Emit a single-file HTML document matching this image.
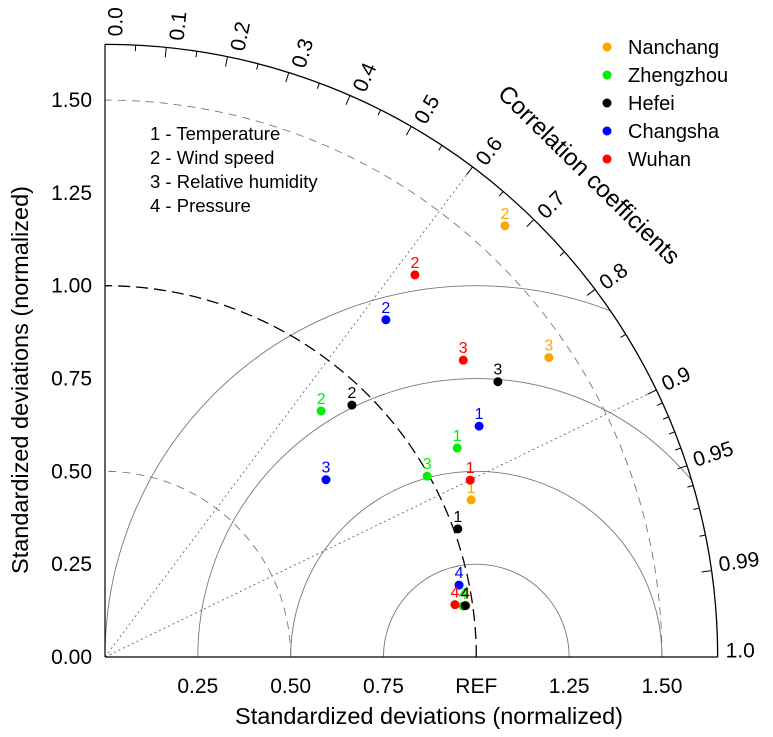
<!DOCTYPE html>
<html style="margin:0;width:773px;height:737px;overflow:hidden"><head><meta charset="utf-8"><style>
body{margin:0;width:773px;height:737px;overflow:hidden;background:#fff;position:relative}
svg{display:block;position:absolute;left:0;top:0;font-family:"Liberation Sans",sans-serif}
</style></head><body>
<svg id="chart" width="773" height="737" viewBox="0 0 773 737">
<defs><clipPath id="sector"><path d="M105,657 L717.6,657 A612.6,612.6 0 0 0 105,44.4 Z"/></clipPath></defs>
<g id="grid"></g>
<g id="axes"></g>
<g id="marks"></g>
<text x="429" y="724" font-size="23.5" text-anchor="middle">Standardized deviations (normalized)</text>
<text transform="translate(28,380) rotate(-90)" font-size="23.5" text-anchor="middle">Standardized deviations (normalized)</text>
<text transform="translate(588,176) rotate(44.5)" font-size="24" text-anchor="middle" dominant-baseline="middle">Correlation coefficients</text>
<g font-size="18.5">
<text x="150" y="140">1 - Temperature</text>
<text x="150" y="164">2 - Wind speed</text>
<text x="150" y="188">3 - Relative humidity</text>
<text x="150" y="212">4 - Pressure</text>
</g>
<g id="legend"></g>
</svg>
<script>
const stations = ["Nanchang","Zhengzhou","Hefei","Changsha","Wuhan"];
const colors = ["#ffa500","#00ee00","#000000","#0000ff","#ff0000"];
const nanchangStd = [1.073,1.584,1.442,0.982];
const nanchangCorr = [0.919,0.680,0.829,0.990];
const zhengzhouStd = [1.103,0.882,0.995,0.974];
const zhengzhouCorr = [0.860,0.660,0.872,0.990];
const hefeiStd = [1.011,0.950,1.292,0.980];
const hefeiCorr = [0.940,0.700,0.819,0.990];
const changshaStd = [1.184,1.182,0.763,0.973];
const changshaCorr = [0.851,0.640,0.780,0.980];
const wuhanStd = [1.093,1.325,1.253,0.953];
const wuhanCorr = [0.900,0.630,0.770,0.989];
const corrLabels = ["0.0","0.1","0.2","0.3","0.4","0.5","0.6","0.7","0.8","0.9","0.95","0.99","1.0"];
const yTicks = ["0.00","0.25","0.50","0.75","1.00","1.25","1.50"];
const xTicks = ["0.25","0.50","0.75","REF","1.25","1.50"];
const xTickVals = [0.25,0.5,0.75,1.0,1.25,1.5];
const stdArcs = [0.5,1.0,1.5];
const rmsCircles = [0.25,0.5,0.75,1.0];
const dottedCorr = [0.6,0.9];

const NS="http://www.w3.org/2000/svg";
const OX=105, OY=657, S=371.3, RMAX=1.65;
const px=v=>OX+v*S, py=v=>OY-v*S;
function polar(r,c){const t=Math.acos(c);return [OX+r*S*Math.cos(t), OY-r*S*Math.sin(t)];}
function mk(tag,attrs,parent){const e=document.createElementNS(NS,tag);for(const k in attrs)e.setAttribute(k,attrs[k]);parent.appendChild(e);return e;}
const grid=document.getElementById('grid'), axes=document.getElementById('axes'), marks=document.getElementById('marks'), legend=document.getElementById('legend');

const rg=mk('g',{'clip-path':'url(#sector)'},grid);
rmsCircles.forEach(r=>{
  const c=mk('path',{d:`M${px(1-r)},${OY} A${r*S},${r*S} 0 0 1 ${px(1+r)},${OY}`,fill:'none',stroke:'#777','stroke-width':0.9},rg);
  
  
});
stdArcs.forEach(r=>{
  const ref=r===1.0;
  const p=mk('path',{d:`M${px(r)},${OY} A${r*S},${r*S} 0 0 0 ${OX},${py(r)}`,fill:'none',stroke:ref?'#000':'#777','stroke-width':ref?1.3:0.9,'stroke-dasharray':ref?'12,6':'8,6'},grid);
  
  
});
dottedCorr.forEach(c=>{
  const [x,y]=polar(RMAX,c);
  const l=mk('line',{x1:OX,y1:OY,x2:x,y2:y,stroke:'#666','stroke-width':0.9,'stroke-dasharray':'2,3'},grid);
  
  
});
mk('line',{x1:OX,y1:OY,x2:px(RMAX),y2:OY,stroke:'#000','stroke-width':1.2},axes);
mk('line',{x1:OX,y1:OY,x2:OX,y2:py(RMAX),stroke:'#000','stroke-width':1.2},axes);
const oa=mk('path',{d:`M${px(RMAX)},${OY} A${RMAX*S},${RMAX*S} 0 0 0 ${OX},${py(RMAX)}`,fill:'none',stroke:'#000','stroke-width':1.3},axes);


const tickVals=[];
for(let i=0;i<=18;i++)tickVals.push(i*0.05);
for(let i=91;i<=99;i++)tickVals.push(i/100);
tickVals.forEach(c=>{
  const major=Math.abs(c*10-Math.round(c*10))<1e-6||Math.abs(c-0.95)<1e-6||Math.abs(c-0.99)<1e-6;
  const len=major?10:6;
  const [x1,y1]=polar(RMAX,c),[x2,y2]=polar(RMAX-len/S,c);
  mk('line',{x1,y1,x2,y2,stroke:'#000','stroke-width':1},axes);
});
corrLabels.forEach(l=>{
  const c=parseFloat(l), th=Math.acos(c), deg=th*180/Math.PI;
  const [x,y]=polar(RMAX+8/S,c);
  const off=-5+17*(deg/90);
  const t=mk('text',{x:0,y:0,'font-size':21,'dominant-baseline':'middle',transform:`translate(${x+off*Math.sin(th)},${y+off*Math.cos(th)}) rotate(${-deg})`},axes);
  t.textContent=l;
  
  
});
yTicks.forEach(l=>{
  const t=mk('text',{x:92,y:py(parseFloat(l))+7,'font-size':21,'text-anchor':'end'},axes);
  t.textContent=l;
  
  
});
xTicks.forEach((l,i)=>{
  const t=mk('text',{x:px(xTickVals[i]),y:693,'font-size':21,'text-anchor':'middle'},axes);
  t.textContent=l;
  
  
});
const stds=[nanchangStd,zhengzhouStd,hefeiStd,changshaStd,wuhanStd];
const corrs=[nanchangCorr,zhengzhouCorr,hefeiCorr,changshaCorr,wuhanCorr];
stations.forEach((s,si)=>{
  stds[si].forEach((r,vi)=>{
    const [x,y]=polar(r,corrs[si][vi]);
    const d=mk('circle',{cx:x,cy:y,r:4.5,fill:colors[si]},marks);
    
    
    const t=mk('text',{x:x,y:y-7,'font-size':16,'text-anchor':'middle',fill:colors[si]},marks);
    t.textContent=String(vi+1);
    
    
  });
  const ly=47+si*28;
  const ld=mk('circle',{cx:607,cy:ly,r:4.5,fill:colors[si]},legend);
  
  
  const lt=mk('text',{x:628,y:ly+7,'font-size':20},legend);
  lt.textContent=s;
  
  
});
</script>
</body></html>
